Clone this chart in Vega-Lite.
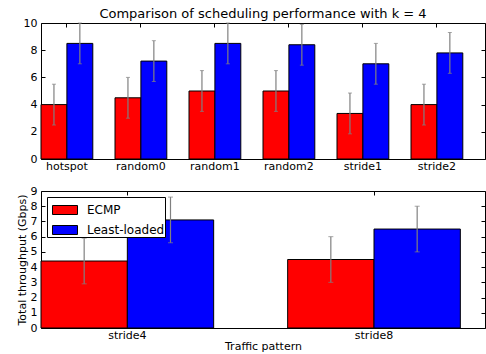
{
  "$schema": "https://vega.github.io/schema/vega-lite/v6.json",
  "padding": {"left": 15, "top": 7, "right": 0, "bottom": 0},
  "datasets": {
    "top": [
      {"pattern": "hotspot", "scheme": "ECMP", "value": 4.0, "lo": 2.5, "hi": 5.5},
      {"pattern": "hotspot", "scheme": "Least-loaded", "value": 8.5, "lo": 7.0, "hi": 10.0},
      {"pattern": "random0", "scheme": "ECMP", "value": 4.5, "lo": 3.0, "hi": 6.0},
      {"pattern": "random0", "scheme": "Least-loaded", "value": 7.2, "lo": 5.7, "hi": 8.7},
      {"pattern": "random1", "scheme": "ECMP", "value": 5.0, "lo": 3.5, "hi": 6.5},
      {"pattern": "random1", "scheme": "Least-loaded", "value": 8.5, "lo": 7.0, "hi": 10.0},
      {"pattern": "random2", "scheme": "ECMP", "value": 5.0, "lo": 3.5, "hi": 6.5},
      {"pattern": "random2", "scheme": "Least-loaded", "value": 8.4, "lo": 6.9, "hi": 9.9},
      {"pattern": "stride1", "scheme": "ECMP", "value": 3.35, "lo": 1.85, "hi": 4.85},
      {"pattern": "stride1", "scheme": "Least-loaded", "value": 7.0, "lo": 5.5, "hi": 8.5},
      {"pattern": "stride2", "scheme": "ECMP", "value": 4.0, "lo": 2.5, "hi": 5.5},
      {"pattern": "stride2", "scheme": "Least-loaded", "value": 7.8, "lo": 6.3, "hi": 9.3}
    ],
    "bottom": [
      {"pattern": "stride4", "scheme": "ECMP", "value": 4.4, "lo": 2.9, "hi": 5.9},
      {"pattern": "stride4", "scheme": "Least-loaded", "value": 7.1, "lo": 5.6, "hi": 8.6},
      {"pattern": "stride8", "scheme": "ECMP", "value": 4.5, "lo": 3.0, "hi": 6.0},
      {"pattern": "stride8", "scheme": "Least-loaded", "value": 6.5, "lo": 5.0, "hi": 8.0}
    ]
  },
  "spacing": 12,
  "resolve": {"legend": {"color": "independent"}, "scale": {"x": "independent", "xOffset": "independent", "y": "independent"}},
  "vconcat": [
    {
      "title": {"text": "Comparison of scheduling performance with k = 4", "fontSize": 13, "fontWeight": "normal", "anchor": "middle", "offset": -4, "color": "black"},
      "width": 444,
      "height": 136,
      "data": {"name": "top"},
      "resolve": {"axis": {"x": "independent", "y": "independent"}},
      "layer": [
        {
          "mark": {"type": "bar", "stroke": "black", "strokeWidth": 1},
          "encoding": {
            "x": {"field": "pattern", "type": "nominal", "sort": null,
              "scale": {"paddingInner": 0.3, "paddingOuter": 0.15, "align": 0},
              "axis": {"title": null, "labelAngle": 0, "tickSize": -4, "labelPadding": 5, "domain": false}},
            "xOffset": {"field": "scheme", "type": "nominal", "sort": null, "scale": {"paddingInner": 0, "paddingOuter": 0}},
            "y": {"field": "value", "type": "quantitative", "scale": {"domain": [0, 10]},
              "axis": {"title": null, "values": [0, 2, 4, 6, 8, 10], "tickSize": -4, "labelPadding": 8, "domain": false}},
            "color": {"field": "scheme", "type": "nominal", "sort": null,
              "scale": {"domain": ["ECMP", "Least-loaded"], "range": ["#ff0000", "#0000ff"]}, "legend": null}
          }
        },
        {
          "mark": {"type": "rule", "color": "#808080", "strokeWidth": 1.2},
          "encoding": {
            "x": {"field": "pattern", "type": "nominal", "sort": null,
              "axis": {"orient": "top", "title": null, "labels": false, "tickSize": -4, "domain": false, "minExtent": 0, "maxExtent": 0}},
            "xOffset": {"field": "scheme", "type": "nominal", "sort": null},
            "y": {"field": "lo", "type": "quantitative",
              "axis": {"orient": "right", "title": null, "labels": false, "values": [0, 2, 4, 6, 8, 10], "tickSize": -4, "domain": false, "minExtent": 0, "maxExtent": 0}},
            "y2": {"field": "hi"}
          }
        },
        {
          "mark": {"type": "tick", "color": "#808080", "size": 4, "thickness": 1},
          "encoding": {
            "x": {"field": "pattern", "type": "nominal", "sort": null, "axis": null},
            "xOffset": {"field": "scheme", "type": "nominal", "sort": null},
            "y": {"field": "lo", "type": "quantitative", "axis": null}
          }
        },
        {
          "mark": {"type": "tick", "color": "#808080", "size": 4, "thickness": 1},
          "encoding": {
            "x": {"field": "pattern", "type": "nominal", "sort": null, "axis": null},
            "xOffset": {"field": "scheme", "type": "nominal", "sort": null},
            "y": {"field": "hi", "type": "quantitative", "axis": null}
          }
        }
      ]
    },
    {
      "width": 444,
      "height": 137,
      "data": {"name": "bottom"},
      "resolve": {"axis": {"x": "independent", "y": "independent"}},
      "layer": [
        {
          "mark": {"type": "bar", "stroke": "black", "strokeWidth": 1},
          "encoding": {
            "x": {"field": "pattern", "type": "nominal", "sort": null,
              "scale": {"paddingInner": 0.3, "paddingOuter": 0.05, "align": 0},
              "axis": {"title": "Traffic pattern", "labelAngle": 0, "tickSize": -4, "labelPadding": 5, "domain": false, "titlePadding": 0}},
            "xOffset": {"field": "scheme", "type": "nominal", "sort": null, "scale": {"paddingInner": 0, "paddingOuter": 0}},
            "y": {"field": "value", "type": "quantitative", "scale": {"domain": [0, 9]},
              "axis": {"title": "Total throughput (Gbps)", "values": [0, 1, 2, 3, 4, 5, 6, 7, 8, 9], "tickSize": -4, "labelPadding": 8, "domain": false, "titlePadding": 3}},
            "color": {"field": "scheme", "type": "nominal", "sort": null,
              "scale": {"domain": ["ECMP", "Least-loaded"], "range": ["#ff0000", "#0000ff"]},
              "legend": {"title": null, "orient": "top-left", "offset": 6, "padding": 0,
                "strokeColor": "black", "fillColor": "white", "cornerRadius": 0,
                "symbolType": "M-0.6,-0.36H1.4V0.36H-0.6Z", "symbolSize": 625, "symbolStrokeColor": "black", "symbolStrokeWidth": 1,
                "symbolOpacity": 1, "labelFontSize": 12, "labelColor": "black", "labelOffset": 14, "rowPadding": -6.5}}
          }
        },
        {
          "mark": {"type": "rule", "color": "#808080", "strokeWidth": 1.2},
          "encoding": {
            "x": {"field": "pattern", "type": "nominal", "sort": null,
              "axis": {"orient": "top", "title": null, "labels": false, "tickSize": -4, "domain": false, "minExtent": 0, "maxExtent": 0}},
            "xOffset": {"field": "scheme", "type": "nominal", "sort": null},
            "y": {"field": "lo", "type": "quantitative",
              "axis": {"orient": "right", "title": null, "labels": false, "values": [0, 1, 2, 3, 4, 5, 6, 7, 8, 9], "tickSize": -4, "domain": false, "minExtent": 0, "maxExtent": 0}},
            "y2": {"field": "hi"}
          }
        },
        {
          "mark": {"type": "tick", "color": "#808080", "size": 5, "thickness": 1},
          "encoding": {
            "x": {"field": "pattern", "type": "nominal", "sort": null, "axis": null},
            "xOffset": {"field": "scheme", "type": "nominal", "sort": null},
            "y": {"field": "lo", "type": "quantitative", "axis": null}
          }
        },
        {
          "mark": {"type": "tick", "color": "#808080", "size": 5, "thickness": 1},
          "encoding": {
            "x": {"field": "pattern", "type": "nominal", "sort": null, "axis": null},
            "xOffset": {"field": "scheme", "type": "nominal", "sort": null},
            "y": {"field": "hi", "type": "quantitative", "axis": null}
          }
        }
      ]
    }
  ],
  "config": {
    "font": "DejaVu Sans",
    "view": {"stroke": "black", "strokeWidth": 1},
    "axis": {"grid": false, "domainColor": "black", "tickColor": "black", "labelColor": "black", "labelFontSize": 11,
      "titleFontSize": 11, "titleFontWeight": "normal", "titleColor": "black", "labelFont": "DejaVu Sans", "titleFont": "DejaVu Sans"},
    "legend": {"labelFont": "DejaVu Sans"}
  }
}
